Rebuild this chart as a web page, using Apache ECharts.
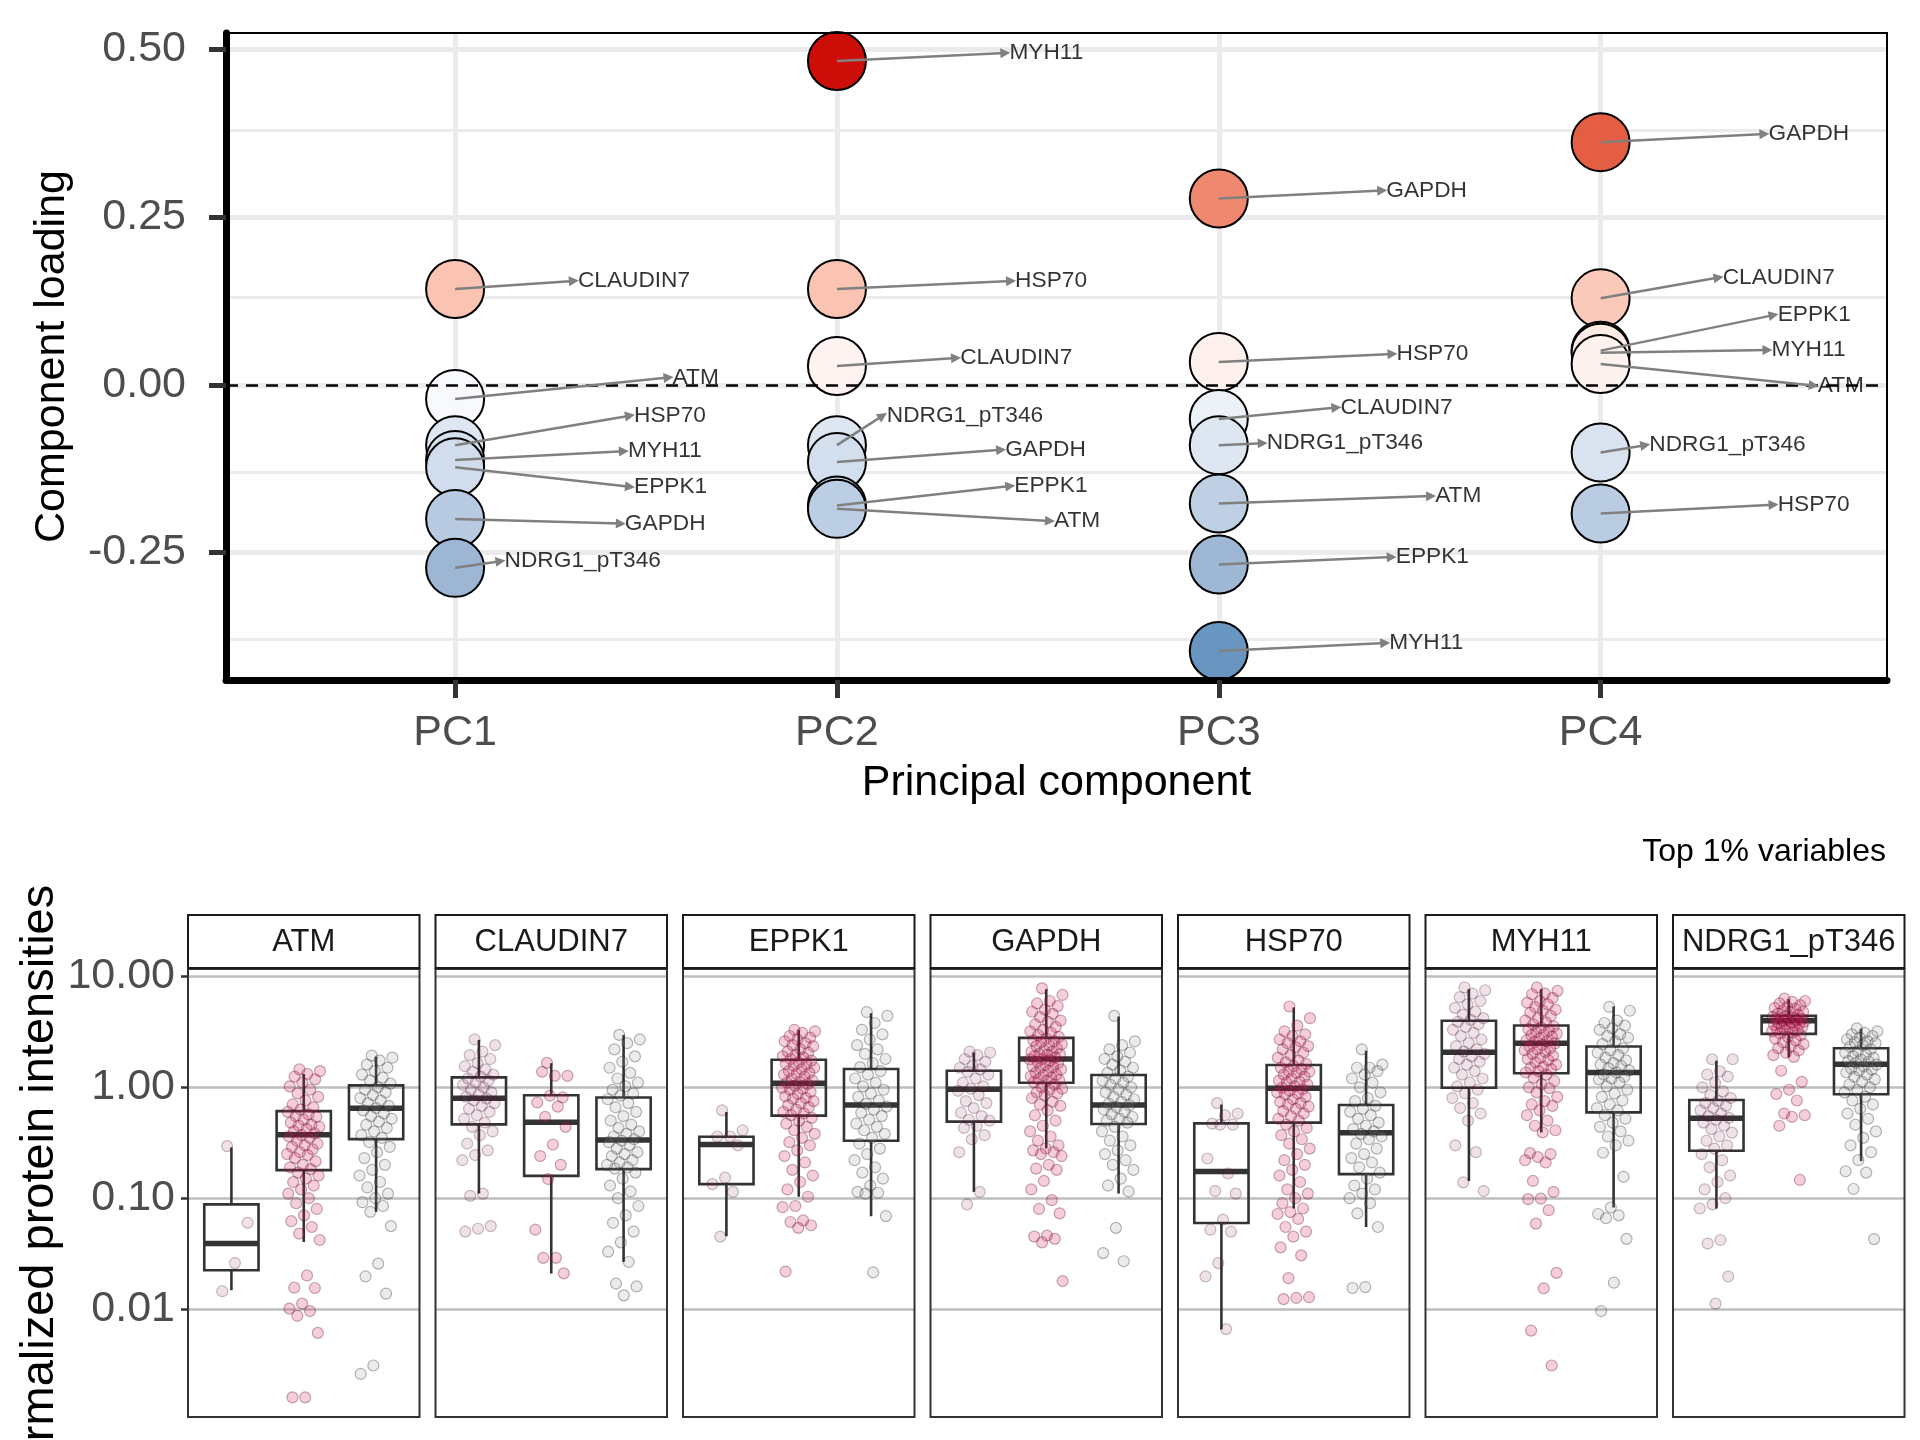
<!DOCTYPE html>
<html><head><meta charset="utf-8">
<script src="https://cdn.jsdelivr.net/npm/echarts@6/dist/echarts.min.js"></script>
<style>html,body{margin:0;padding:0;background:#fff}#c{width:1920px;height:1440px}</style>
</head><body><div id="c"></div>
<script>
// ---------------- DATA ----------------
const variables = ['ATM','CLAUDIN7','EPPK1','GAPDH','HSP70','MYH11','NDRG1_pT346'];
const components = ['PC1','PC2','PC3','PC4'];
// loadings, ordered as variables
const loadingPC1 = [-0.021, 0.143, -0.123, -0.200, -0.090, -0.112, -0.273];
const loadingPC2 = [-0.185, 0.028, -0.180, -0.115, 0.143, 0.483, -0.090];
const loadingPC3 = [-0.177, -0.051, -0.268, 0.278, 0.034, -0.397, -0.090];
const loadingPC4 = [0.031, 0.129, 0.051, 0.362, -0.192, 0.048, -0.101];
// repelled label anchors (data units: component position, loading)
const labelAnchorPC1 = [[1.559,0.011],[1.311,0.155],[1.458,-0.152],[1.434,-0.207],[1.458,-0.046],[1.442,-0.099],[1.119,-0.263]];
const labelAnchorPC2 = [[2.558,-0.203],[2.312,0.040],[2.454,-0.151],[2.430,-0.097],[2.456,0.155],[2.441,0.495],[2.120,-0.046]];
const labelAnchorPC3 = [[3.556,-0.166],[3.308,-0.034],[3.453,-0.257],[3.428,0.290],[3.455,0.046],[3.436,-0.385],[3.115,-0.087]];
const labelAnchorPC4 = [[4.558,-0.001],[4.309,0.160],[4.453,0.104],[4.429,0.374],[4.453,-0.179],[4.437,0.052],[4.117,-0.090]];
const loadingTicks = [-0.25, 0, 0.25, 0.5];
const loadingMinorTicks = [-0.375, -0.125, 0.125, 0.375];
const intensityTicks = [0.01, 0.1, 1, 10];

// boxplot stats per variable: [lower whisker, Q1, median, Q3, upper whisker]
const boxNormal = [
 [0.0148, 0.0224, 0.039, 0.088, 0.287],
 [0.110, 0.463, 0.795, 1.23, 2.68],
 [0.0454, 0.134, 0.305, 0.358, 0.598],
 [0.114, 0.49, 0.96, 1.41, 2.06],
 [0.00655, 0.0598, 0.174, 0.473, 0.70],
 [0.143, 0.99, 2.07, 3.98, 7.69],
 [0.0807, 0.268, 0.525, 0.769, 1.74]
];
const boxTumor = [
 [0.0403, 0.179, 0.373, 0.61, 1.32],
 [0.0209, 0.159, 0.483, 0.847, 1.65],
 [0.103, 0.555, 1.09, 1.77, 3.3],
 [0.281, 1.10, 1.80, 2.79, 7.68],
 [0.0807, 0.48, 0.98, 1.59, 5.25],
 [0.392, 1.34, 2.5, 3.61, 7.69],
 [1.87, 3.03, 3.98, 4.41, 6.24]
];
const boxCell = [
 [0.0753, 0.341, 0.646, 1.04, 1.89],
 [0.0266, 0.183, 0.334, 0.81, 2.97],
 [0.0687, 0.33, 0.692, 1.46, 4.66],
 [0.110, 0.467, 0.692, 1.29, 4.35],
 [0.055, 0.165, 0.389, 0.692, 2.14],
 [0.0824, 0.594, 1.36, 2.33, 5.36],
 [0.216, 0.865, 1.61, 2.25, 3.37]
];
// individual sample intensities (read from the jittered points)
const pointsNormal = [
 [0.295, 0.060, 0.026, 0.0145],
 [2.7, 2.4, 2.1, 1.95, 1.8, 1.65, 1.55, 1.45, 1.38, 1.3, 1.25, 1.2, 1.15, 1.1, 1.05, 1.0, 0.95, 0.9, 0.86, 0.82, 0.79, 0.76, 0.72, 0.68, 0.64, 0.6, 0.56, 0.52, 0.48, 0.44, 0.4, 0.37, 0.31, 0.27, 0.245, 0.22, 0.11, 0.105, 0.056, 0.053, 0.05],
 [0.62, 0.41, 0.36, 0.36, 0.3, 0.153, 0.134, 0.114, 0.045],
 [2.1, 2.06, 1.95, 1.8, 1.7, 1.56, 1.5, 1.45, 1.38, 1.3, 1.2, 1.1, 1.02, 0.97, 0.93, 0.85, 0.75, 0.72, 0.65, 0.59, 0.55, 0.51, 0.5, 0.45, 0.43, 0.37, 0.34, 0.26, 0.114, 0.088],
 [0.72, 0.58, 0.56, 0.47, 0.46, 0.46, 0.228, 0.167, 0.116, 0.11, 0.064, 0.052, 0.05, 0.026, 0.0197, 0.0066],
 [7.95, 7.5, 7.0, 6.5, 6.0, 5.6, 5.2, 4.8, 4.5, 4.2, 4.05, 3.9, 3.7, 3.5, 3.3, 3.1, 2.9, 2.7, 2.5, 2.35, 2.2, 2.1, 2.0, 1.9, 1.8, 1.7, 1.6, 1.5, 1.4, 1.3, 1.2, 1.1, 1.02, 0.95, 0.88, 0.8, 0.72, 0.65, 0.58, 0.5, 0.3, 0.26, 0.139, 0.116],
 [1.79, 1.79, 1.39, 1.3, 1.25, 1.1, 1.0, 0.92, 0.85, 0.8, 0.75, 0.72, 0.68, 0.65, 0.62, 0.58, 0.55, 0.53, 0.51, 0.48, 0.45, 0.42, 0.39, 0.36, 0.33, 0.3, 0.28, 0.25, 0.22, 0.19, 0.16, 0.14, 0.12, 0.1, 0.088, 0.0807, 0.042, 0.039, 0.0197, 0.0112]
];
const pointsTumor = [
 [1.45, 1.4, 1.32, 1.25, 1.18, 1.1, 1.02, 0.95, 0.88, 0.82, 0.76, 0.7, 0.66, 0.63, 0.6, 0.57, 0.55, 0.54, 0.51, 0.48, 0.46, 0.45, 0.44, 0.42, 0.4, 0.385, 0.37, 0.36, 0.35, 0.33, 0.31, 0.3, 0.29, 0.275, 0.26, 0.25, 0.245, 0.23, 0.215, 0.2, 0.19, 0.183, 0.17, 0.16, 0.15, 0.14, 0.13, 0.12, 0.11, 0.1, 0.09, 0.08, 0.07, 0.062, 0.055, 0.048, 0.042, 0.0201, 0.0156, 0.0155, 0.0112, 0.0101, 0.0096, 0.0087, 0.0061, 0.0016, 0.0016],
 [1.66, 1.27, 1.27, 1.38, 0.81, 0.84, 0.73, 0.67, 0.54, 0.44, 0.305, 0.24, 0.2, 0.149, 0.052, 0.029, 0.029, 0.021],
 [3.3, 3.2, 3.1, 2.9, 2.8, 2.7, 2.6, 2.5, 2.4, 2.35, 2.2, 2.1, 2.05, 1.95, 1.9, 1.85, 1.8, 1.74, 1.68, 1.62, 1.6, 1.56, 1.5, 1.45, 1.4, 1.35, 1.32, 1.3, 1.25, 1.2, 1.15, 1.12, 1.1, 1.07, 1.03, 0.99, 0.97, 0.95, 0.91, 0.87, 0.83, 0.8, 0.79, 0.75, 0.72, 0.69, 0.66, 0.63, 0.6, 0.58, 0.56, 0.53, 0.5, 0.47, 0.44, 0.41, 0.38, 0.35, 0.32, 0.3, 0.27, 0.24, 0.21, 0.18, 0.16, 0.14, 0.12, 0.103, 0.085, 0.083, 0.063, 0.061, 0.057, 0.054, 0.0218],
 [7.8, 6.8, 6.0, 5.7, 5.4, 5.0, 4.8, 4.6, 4.3, 4.0, 3.9, 3.7, 3.5, 3.3, 3.2, 3.1, 2.95, 2.85, 2.75, 2.65, 2.6, 2.55, 2.45, 2.4, 2.35, 2.25, 2.15, 2.1, 2.08, 2.0, 1.98, 1.95, 1.9, 1.85, 1.8, 1.78, 1.75, 1.7, 1.65, 1.6, 1.55, 1.52, 1.5, 1.45, 1.4, 1.35, 1.3, 1.28, 1.26, 1.22, 1.18, 1.16, 1.14, 1.11, 1.05, 1.0, 0.97, 0.95, 0.9, 0.88, 0.85, 0.8, 0.74, 0.7, 0.68, 0.62, 0.56, 0.5, 0.45, 0.4, 0.36, 0.33, 0.3, 0.281, 0.27, 0.26, 0.25, 0.24, 0.2, 0.185, 0.18, 0.143, 0.12, 0.096, 0.08, 0.073, 0.046, 0.045, 0.043, 0.04, 0.0179],
 [5.35, 4.2, 3.6, 3.2, 3.0, 2.9, 2.7, 2.6, 2.5, 2.35, 2.3, 2.2, 2.05, 1.95, 1.85, 1.75, 1.68, 1.62, 1.55, 1.5, 1.45, 1.4, 1.38, 1.35, 1.3, 1.25, 1.2, 1.15, 1.12, 1.1, 1.06, 1.02, 0.99, 0.96, 0.93, 0.9, 0.88, 0.86, 0.82, 0.78, 0.74, 0.72, 0.7, 0.67, 0.64, 0.61, 0.58, 0.55, 0.52, 0.5, 0.46, 0.43, 0.4, 0.37, 0.34, 0.31, 0.28, 0.25, 0.22, 0.2, 0.18, 0.16, 0.14, 0.12, 0.11, 0.1, 0.09, 0.0807, 0.075, 0.072, 0.065, 0.055, 0.05, 0.045, 0.036, 0.0305, 0.019, 0.0128, 0.0126, 0.0123],
 [7.95, 7.4, 7.0, 6.9, 6.4, 6.0, 5.8, 5.6, 5.3, 5.0, 4.9, 4.7, 4.4, 4.2, 4.0, 3.85, 3.7, 3.55, 3.45, 3.35, 3.25, 3.15, 3.05, 3.0, 2.95, 2.85, 2.75, 2.65, 2.6, 2.55, 2.48, 2.4, 2.32, 2.24, 2.2, 2.16, 2.08, 2.0, 1.92, 1.84, 1.8, 1.76, 1.68, 1.6, 1.53, 1.5, 1.46, 1.4, 1.36, 1.3, 1.22, 1.14, 1.06, 1.0, 0.98, 0.9, 0.82, 0.75, 0.7, 0.68, 0.62, 0.56, 0.5, 0.45, 0.41, 0.392, 0.255, 0.25, 0.235, 0.22, 0.21, 0.143, 0.114, 0.099, 0.098, 0.078, 0.059, 0.0212, 0.0154, 0.0064, 0.0031],
 [6.3, 6.0, 5.9, 5.7, 5.5, 5.3, 5.2, 5.1, 4.9, 4.8, 4.75, 4.6, 4.5, 4.38, 4.32, 4.26, 4.2, 4.14, 4.1, 4.08, 4.02, 3.96, 3.9, 3.84, 3.8, 3.78, 3.72, 3.66, 3.6, 3.52, 3.5, 3.44, 3.36, 3.3, 3.28, 3.2, 3.12, 3.06, 2.95, 2.85, 2.75, 2.65, 2.55, 2.45, 2.35, 2.25, 2.15, 2.05, 1.95, 1.88, 1.41, 1.12, 0.95, 0.87, 0.76, 0.58, 0.56, 0.54, 0.45, 0.146]
];
const pointsCell = [
 [1.93, 1.85, 1.75, 1.6, 1.5, 1.4, 1.3, 1.22, 1.15, 1.08, 1.0, 0.95, 0.9, 0.85, 0.8, 0.76, 0.72, 0.68, 0.65, 0.62, 0.58, 0.55, 0.52, 0.49, 0.46, 0.43, 0.4, 0.37, 0.35, 0.32, 0.29, 0.26, 0.23, 0.2, 0.18, 0.16, 0.14, 0.125, 0.11, 0.1, 0.092, 0.085, 0.0753, 0.056, 0.0257, 0.0197, 0.0138, 0.0031, 0.0026],
 [2.97, 2.7, 2.5, 2.2, 1.9, 1.7, 1.5, 1.35, 1.2, 1.1, 1.02, 0.95, 0.88, 0.84, 0.78, 0.72, 0.66, 0.6, 0.55, 0.5, 0.46, 0.43, 0.4, 0.38, 0.36, 0.34, 0.33, 0.32, 0.3, 0.28, 0.26, 0.25, 0.24, 0.22, 0.21, 0.2, 0.19, 0.185, 0.17, 0.15, 0.13, 0.115, 0.1, 0.085, 0.07, 0.06, 0.05, 0.04, 0.033, 0.0266, 0.017, 0.016, 0.0133],
 [4.77, 4.4, 3.8, 3.3, 3.0, 2.7, 2.4, 2.2, 2.0, 1.8, 1.65, 1.52, 1.4, 1.3, 1.2, 1.1, 1.02, 0.95, 0.88, 0.82, 0.76, 0.71, 0.67, 0.63, 0.59, 0.55, 0.51, 0.47, 0.44, 0.41, 0.38, 0.35, 0.31, 0.28, 0.25, 0.22, 0.19, 0.17, 0.15, 0.13, 0.114, 0.112, 0.11, 0.069, 0.0214],
 [4.4, 2.6, 2.4, 2.2, 2.05, 1.9, 1.8, 1.7, 1.6, 1.5, 1.42, 1.35, 1.25, 1.2, 1.15, 1.1, 1.05, 1.0, 0.95, 0.9, 0.86, 0.82, 0.78, 0.74, 0.71, 0.69, 0.66, 0.63, 0.6, 0.57, 0.54, 0.52, 0.5, 0.48, 0.44, 0.4, 0.36, 0.33, 0.3, 0.27, 0.25, 0.22, 0.2, 0.18, 0.15, 0.13, 0.115, 0.054, 0.032, 0.027],
 [2.2, 1.6, 1.5, 1.5, 1.4, 1.3, 1.2, 1.1, 1.0, 0.9, 0.8, 0.75, 0.68, 0.64, 0.6, 0.56, 0.52, 0.48, 0.45, 0.42, 0.4, 0.38, 0.36, 0.34, 0.31, 0.28, 0.25, 0.23, 0.21, 0.19, 0.17, 0.15, 0.13, 0.12, 0.11, 0.1, 0.09, 0.073, 0.055, 0.0158, 0.0155],
 [5.3, 4.9, 4.0, 3.8, 3.6, 3.4, 3.3, 3.0, 2.9, 2.8, 2.6, 2.45, 2.25, 2.15, 2.05, 1.95, 1.85, 1.75, 1.65, 1.6, 1.55, 1.48, 1.42, 1.36, 1.3, 1.24, 1.2, 1.18, 1.1, 1.02, 0.95, 0.88, 0.82, 0.76, 0.7, 0.65, 0.62, 0.56, 0.52, 0.48, 0.44, 0.4, 0.36, 0.33, 0.3, 0.257, 0.156, 0.0824, 0.072, 0.07, 0.066, 0.043, 0.0173, 0.0096],
 [3.4, 3.2, 3.1, 3.0, 2.9, 2.8, 2.7, 2.6, 2.55, 2.5, 2.4, 2.32, 2.2, 2.12, 2.05, 1.98, 1.9, 1.84, 1.78, 1.72, 1.7, 1.66, 1.6, 1.54, 1.48, 1.45, 1.42, 1.36, 1.3, 1.24, 1.18, 1.12, 1.06, 1.0, 0.95, 0.9, 0.82, 0.76, 0.7, 0.64, 0.58, 0.52, 0.46, 0.4, 0.35, 0.3, 0.26, 0.22, 0.175, 0.17, 0.121, 0.0428]
];

// ---------------- STYLE / LAYOUT ----------------
const FONT = 'Liberation Sans, Arial, Helvetica, sans-serif';
const loadingPalette = ['#4F83B7','#6894C1','#92AECF','#B7CAE1','#D9E3EF','#FFFFFF','#FDD5C9','#F6AA93','#ED7F63','#DD4A30','#C80000'];
const groupStyles = [
  {color:'rgba(128,28,78,0.17)', borderColor:'rgba(70,20,45,0.34)'},
  {color:'rgba(215,30,95,0.28)', borderColor:'rgba(90,10,40,0.42)'},
  {color:'rgba(140,140,140,0.22)', borderColor:'rgba(30,30,30,0.40)'}
];
const TOPG = {left:226, top:33, width:1661, height:647};
const PAN = {left0:188, step:247.5, width:231.5, top:969, height:448, stripTop:915, stripH:53};
const LOG_MIN = -2.973, LOG_MAX = 1.0667;
const JITTER = 0.23;
const BOX_HALF = 0.375;
function jitterOffset(i){ const f = (i*0.6180339887 + 0.37) % 1; return (f - 0.5) * 2 * JITTER; }

const chart = echarts.init(document.getElementById('c'), null, {width:1920, height:1440});
const grids=[], xAxes=[], yAxes=[], series=[], graphics=[];

// ---- top panel ----
grids.push({left:TOPG.left, top:TOPG.top, width:TOPG.width, height:TOPG.height, show:true,
  borderColor:'#000', borderWidth:2, backgroundColor:'rgba(0,0,0,0)', z:10, containLabel:false, outerBoundsMode:'none'});
xAxes.push({gridIndex:0, type:'value', min:0.4, max:4.75, z:11,
  axisLine:{show:true, onZero:false, lineStyle:{color:'#000', width:7}},
  axisTick:{show:true, customValues:[1,2,3,4], length:18, lineStyle:{color:'#333', width:5}},
  axisLabel:{show:true, customValues:[1,2,3,4], formatter:v=>components[Math.round(v)-1]||'', fontSize:43, color:'#4D4D4D', margin:32, fontFamily:FONT},
  splitLine:{show:false},
  name:'Principal component', nameLocation:'middle', nameGap:82, nameTextStyle:{fontSize:43, color:'#000', fontFamily:FONT}});
yAxes.push({gridIndex:0, type:'value', min:-0.4403, max:0.5248, z:11,
  axisLine:{show:true, onZero:false, lineStyle:{color:'#000', width:7}},
  axisTick:{show:true, customValues:loadingTicks, length:17, lineStyle:{color:'#333', width:5}},
  axisLabel:{show:true, customValues:loadingTicks, formatter:v=>v.toFixed(2), fontSize:43, color:'#4D4D4D', margin:40, fontFamily:FONT},
  splitLine:{show:false},
  name:'Component loading', nameLocation:'middle', nameGap:152, nameTextStyle:{fontSize:43, color:'#000', fontFamily:FONT}});

// grid lines
series.push({type:'scatter', xAxisIndex:0, yAxisIndex:0, data:[[0,-10]], symbolSize:0, silent:true, z:1,
  markLine:{silent:true, z:1, symbol:['none','none'], label:{show:false}, animation:false,
    data:[].concat(
      loadingMinorTicks.map(v=>({yAxis:v, lineStyle:{color:'#EBEBEB', width:3, type:'solid'}})),
      loadingTicks.map(v=>({yAxis:v, lineStyle:{color:'#EBEBEB', width:5, type:'solid'}})),
      components.map((c,i)=>({xAxis:i+1, lineStyle:{color:'#EBEBEB', width:5, type:'solid'}}))
    )}});

const loadings = [loadingPC1, loadingPC2, loadingPC3, loadingPC4];
const anchors = [labelAnchorPC1, labelAnchorPC2, labelAnchorPC3, labelAnchorPC4];
const circleData = [], arrowData = [], labelData = [];
loadings.forEach((arr, c) => {
  const idx = arr.map((v,i)=>i).sort((a,b)=>arr[b]-arr[a]);
  idx.forEach(i => circleData.push({value:[c+1, arr[i]], name:variables[i]}));
  arr.forEach((v,i) => {
    arrowData.push({coords:[[c+1, v], anchors[c][i]]});
    labelData.push({value:anchors[c][i], name:variables[i]});
  });
});
const circleSeriesIndex = series.length;
series.push({type:'scatter', xAxisIndex:0, yAxisIndex:0, data:circleData, symbolSize:58, z:2,
  itemStyle:{borderColor:'#000', borderWidth:2, opacity:1}});
// dashed zero line
series.push({type:'scatter', xAxisIndex:0, yAxisIndex:0, data:[[0,-10]], symbolSize:0, silent:true, z:3,
  markLine:{silent:true, z:3, symbol:['none','none'], label:{show:false}, animation:false,
    data:[{yAxis:0, lineStyle:{color:'#000', width:2.5, type:[12,8]}}]}});
series.push({type:'lines', coordinateSystem:'cartesian2d', xAxisIndex:0, yAxisIndex:0, data:arrowData, z:4,
  symbol:['none','triangle'], symbolSize:10, silent:true,
  lineStyle:{color:'#808080', width:2.5, opacity:1}, itemStyle:{color:'#808080'}});
series.push({type:'scatter', xAxisIndex:0, yAxisIndex:0, data:labelData, symbolSize:0.1, z:5, silent:true,
  itemStyle:{color:'rgba(0,0,0,0)'},
  label:{show:true, position:'right', distance:4, formatter:'{b}', fontSize:22.7, color:'#000', fontFamily:FONT}});

// ---- bottom panels ----
const logTicks = intensityTicks.map(v=>Math.log10(v));
function renderBox(params, api){
  const g = api.value(0);
  const mn=api.value(1), q1=api.value(2), md=api.value(3), q3=api.value(4), mx=api.value(5);
  const tl = api.coord([g-BOX_HALF, q3]), br = api.coord([g+BOX_HALF, q1]);
  const wt = api.coord([g, mx]), t3 = api.coord([g, q3]), t1 = api.coord([g, q1]), wb = api.coord([g, mn]);
  const ml = api.coord([g-BOX_HALF, md]), mr = api.coord([g+BOX_HALF, md]);
  const st = {stroke:'#333333', lineWidth:2.6, fill:null};
  return {type:'group', children:[
    {type:'line', shape:{x1:wt[0],y1:wt[1],x2:t3[0],y2:t3[1]}, style:st},
    {type:'line', shape:{x1:t1[0],y1:t1[1],x2:wb[0],y2:wb[1]}, style:st},
    {type:'rect', shape:{x:tl[0], y:tl[1], width:br[0]-tl[0], height:br[1]-tl[1]}, style:{stroke:'#333333', lineWidth:2.6, fill:'rgba(0,0,0,0)'}},
    {type:'line', shape:{x1:ml[0],y1:ml[1],x2:mr[0],y2:mr[1]}, style:{stroke:'#333333', lineWidth:5.5}}
  ]};
}
variables.forEach((name, k) => {
  const gi = k+1;
  const left = PAN.left0 + k*PAN.step;
  grids.push({left:left, top:PAN.top, width:PAN.width, height:PAN.height, show:true,
    borderColor:'#333', borderWidth:2, backgroundColor:'rgba(0,0,0,0)', z:10, containLabel:false, outerBoundsMode:'none'});
  xAxes.push({gridIndex:gi, type:'value', min:0.4, max:3.6, show:false, splitLine:{show:false}});
  yAxes.push({gridIndex:gi, type:'value', min:LOG_MIN, max:LOG_MAX, z:11,
    axisLine:{show:false},
    axisTick:{show:k===0, customValues:logTicks, length:7, lineStyle:{color:'#333', width:2.5}},
    axisLabel:{show:k===0, customValues:logTicks, formatter:v=>Math.pow(10,v).toFixed(2), fontSize:43, color:'#4D4D4D', margin:13, fontFamily:FONT},
    splitLine:{show:false},
    name: k===0 ? 'Normalized protein intensities' : '', nameLocation:'middle', nameGap:122,
    nameTextStyle:{fontSize:47, color:'#000', fontFamily:FONT}});
  series.push({type:'scatter', xAxisIndex:gi, yAxisIndex:gi, data:[[0,-10]], symbolSize:0, silent:true, z:1,
    markLine:{silent:true, z:1, symbol:['none','none'], label:{show:false}, animation:false,
      data: logTicks.map(v=>({yAxis:v, lineStyle:{color:'#BEBEBE', width:2.5, type:'solid'}}))}});
  const boxes = [boxNormal[k], boxTumor[k], boxCell[k]];
  series.push({type:'custom', xAxisIndex:gi, yAxisIndex:gi, z:2, silent:true,
    encode:{x:0, y:[1,2,3,4,5]},
    data: boxes.map((b,g)=>[g+1].concat(b.map(v=>Math.log10(v)))),
    renderItem: renderBox});
  [pointsNormal[k], pointsTumor[k], pointsCell[k]].forEach((pts, g) => {
    series.push({type:'scatter', xAxisIndex:gi, yAxisIndex:gi, z:3, silent:true,
      symbolSize:11, itemStyle:Object.assign({borderWidth:1.2}, groupStyles[g]),
      data: pts.map((v,i)=>[g+1+jitterOffset(i), Math.log10(v)])});
  });
  graphics.push({type:'rect', z:20, shape:{x:left, y:PAN.stripTop, width:PAN.width, height:PAN.stripH},
    style:{fill:'#fff', stroke:'#1A1A1A', lineWidth:2}});
  graphics.push({type:'text', z:21, x:left+PAN.width/2, y:PAN.stripTop+PAN.stripH/2+1,
    style:{text:name, fill:'#1A1A1A', fontSize:31, fontFamily:FONT, align:'center', verticalAlign:'middle', textAlign:'center', textVerticalAlign:'middle'}});
});

chart.setOption({
  animation:false,
  backgroundColor:'#fff',
  textStyle:{fontFamily:FONT},
  title:{text:'Top 1% variables', right:29, top:831, textStyle:{fontSize:32, fontWeight:'normal', color:'#000', fontFamily:FONT}},
  visualMap:{show:false, type:'continuous', min:-0.5, max:0.5, dimension:1, seriesIndex:circleSeriesIndex, inRange:{color:loadingPalette}},
  grid:grids, xAxis:xAxes, yAxis:yAxes, series:series, graphic:graphics
});
</script></body></html>
